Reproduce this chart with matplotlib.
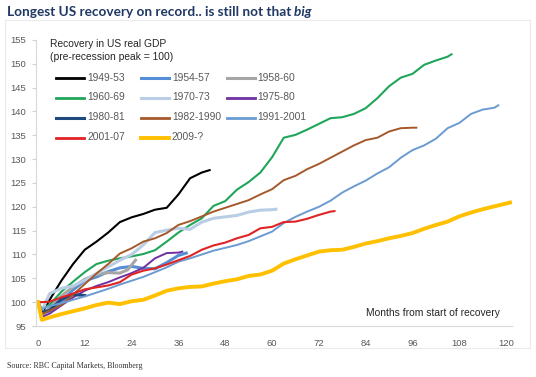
import matplotlib
matplotlib.use("Agg")
import matplotlib.pyplot as plt
from matplotlib.lines import Line2D
from matplotlib.patches import Rectangle

# recovery paths, index (pre-recession peak = 100) vs months from start of recovery
labels = ["1949-53", "1954-57", "1958-60", "1960-69", "1970-73", "1975-80",
          "1980-81", "1982-1990", "1991-2001", "2001-07", "2009-?"]
colors = ["#000000", "#558ED5", "#A6A6A6", "#1FA65A", "#B9CDE5", "#7030A0",
          "#1F497D", "#A5592A", "#6A9BD1", "#E02424", "#FFC000"]
widths = [1.5, 2.2, 2.2, 1.5, 2.2, 1.4, 2.2, 1.4, 1.4, 1.5, 2.8]

m_1949 = [0, 1, 3, 6, 9, 12, 15, 18, 21, 24, 27, 30, 33, 36, 39, 42, 44]
v_1949 = [100, 97.5, 100.5, 104.5, 108, 111, 112.7, 114.6, 116.8, 117.8, 118.5,
          119.4, 119.8, 122.6, 126.0, 127.2, 127.7]

m_1954 = [0, 1, 3, 6, 9, 12, 15, 18, 21, 24, 27, 30, 33, 36, 38]
v_1954 = [100, 97.5, 98.2, 100, 102.6, 104.5, 105.3, 106.4, 107.2, 107.5, 107.1,
          107.0, 108.3, 109.8, 110.3]

m_1958 = [0, 1, 3, 6, 9, 12, 15, 18, 21, 23, 25]
v_1958 = [100, 97.2, 98.8, 101.3, 103.2, 104.8, 105.8, 106.2, 106.1, 106.8, 108.8]

m_1960 = [0, 1, 3, 6, 9, 12, 15, 18, 21, 24, 27, 30, 33, 36, 39, 42, 45, 48, 51,
          54, 57, 60, 63, 66, 69, 72, 75, 78, 81, 84, 87, 90, 93, 96, 99, 102,
          105, 106]
v_1960 = [100, 98.5, 99.5, 102.2, 104.3, 106.3, 108.0, 108.7, 109.2, 109.6, 110.1,
          110.9, 112.7, 114.6, 116.2, 117.6, 120.2, 121.2, 123.6, 125.2, 127.2,
          130.4, 134.5, 135.1, 136.2, 137.4, 138.6, 138.8, 139.5, 140.7, 142.8,
          145.3, 147.1, 147.9, 149.8, 150.7, 151.5, 152.0]

m_1970 = [0, 1, 3, 6, 9, 12, 15, 18, 21, 24, 27, 30, 33, 36, 39, 42, 45, 48, 51,
          54, 57, 60, 61]
v_1970 = [100, 98.2, 101.8, 102.9, 103.4, 104.6, 106.0, 107.4, 108.8, 110.0, 112.0,
          114.6, 115.1, 115.5, 115.3, 116.8, 117.6, 117.9, 118.2, 118.9, 119.3,
          119.4, 119.5]

m_1975 = [0, 1, 3, 6, 9, 12, 15, 18, 21, 24, 27, 30, 33, 36, 37]
v_1975 = [100, 96.9, 97.6, 99.3, 101.0, 102.4, 103.4, 104.2, 105.2, 106.1, 107.2,
          109.2, 110.3, 110.4, 110.6]

m_1980 = [0, 1, 3, 6, 9, 12]
v_1980 = [100, 97.8, 98.3, 100.6, 101.6, 101.4]

m_1982 = [0, 1, 3, 6, 9, 12, 15, 18, 21, 24, 27, 30, 33, 36, 39, 42, 45, 48, 51,
          54, 57, 60, 63, 66, 69, 72, 75, 78, 81, 84, 87, 90, 93, 96, 97]
v_1982 = [100, 97.5, 98.2, 99.4, 101.6, 103.8, 106.0, 108.0, 110.2, 111.3, 112.7,
          113.4, 114.5, 116.2, 117.0, 118.0, 119.0, 119.8, 120.6, 121.4, 122.6,
          123.7, 125.6, 126.5, 127.9, 129.0, 130.3, 131.6, 132.9, 134.0, 134.5,
          135.8, 136.5, 136.6, 136.6]

m_1991 = [0, 1, 3, 6, 9, 12, 15, 18, 21, 24, 27, 30, 33, 36, 39, 42, 45, 48, 51,
          54, 57, 60, 63, 66, 69, 72, 75, 78, 81, 84, 87, 90, 93, 96, 99, 102,
          105, 108, 111, 114, 117, 118]
v_1991 = [100, 98.6, 99.2, 99.8, 100.5, 101.2, 102.0, 102.8, 103.7, 104.5, 105.3,
          106.3, 107.3, 108.5, 109.2, 110.0, 110.8, 111.4, 112.0, 112.8, 113.8,
          114.8, 116.6, 117.9, 119.0, 120.0, 121.3, 123.0, 124.3, 125.5, 127.0,
          128.3, 130.3, 131.9, 132.9, 134.3, 136.5, 137.6, 139.5, 140.4, 140.8,
          141.3]

m_2001 = [0, 1, 3, 6, 9, 12, 15, 18, 21, 24, 27, 30, 33, 36, 39, 42, 45, 48, 51,
          54, 57, 60, 63, 66, 69, 72, 75, 76]
v_2001 = [100, 100, 100.1, 101.0, 101.8, 102.7, 103.1, 103.5, 104.2, 105.8, 106.6,
          107.1, 107.9, 108.8, 109.7, 111.0, 111.9, 112.5, 113.4, 114.1, 115.5,
          115.8, 116.8, 116.9, 117.5, 118.3, 119.0, 119.1]

m_2009 = [0, 1, 3, 6, 9, 12, 15, 18, 21, 24, 27, 30, 33, 36, 39, 42, 45, 48, 51,
          54, 57, 60, 63, 66, 69, 72, 75, 78, 81, 84, 87, 90, 93, 96, 99, 102,
          105, 108, 111, 114, 117, 120, 121]
v_2009 = [100, 96.3, 96.8, 97.5, 98.1, 98.7, 99.4, 99.9, 99.6, 100.2, 100.5, 101.4,
          102.4, 102.9, 103.2, 103.3, 103.9, 104.4, 104.8, 105.5, 105.8, 106.6,
          108.1, 109.0, 109.8, 110.6, 110.9, 111.0, 111.6, 112.3, 112.8, 113.4,
          113.9, 114.5, 115.4, 116.2, 116.9, 118.0, 118.8, 119.5, 120.1, 120.7,
          120.9]

months = [m_1949, m_1954, m_1958, m_1960, m_1970, m_1975, m_1980, m_1982, m_1991, m_2001, m_2009]
values = [v_1949, v_1954, v_1958, v_1960, v_1970, v_1975, v_1980, v_1982, v_1991, v_2001, v_2009]

x_ticks = list(range(0, 121, 12))
y_ticks = list(range(95, 156, 5))

narrow = ["Liberation Sans Narrow", "Liberation Sans", "DejaVu Sans"]
W, H = 536, 377


def px(x, y):
    # figure pixel position -> figure fraction
    return x / W, 1 - y / H


fig = plt.figure(figsize=(W / 100, H / 100), dpi=100)
ax = fig.add_axes([36 / W, 1 - 326 / H, (512 - 36) / W, (326 - 40) / H])

for m, v, c, lw in zip(months, values, colors, widths):
    ax.plot(m, v, color=c, lw=lw, solid_joinstyle="round")

ax.set_xlim(-0.5, 121.5)
ax.set_ylim(95, 155)
ax.set_xticks(x_ticks)
ax.set_yticks(y_ticks)
ax.tick_params(axis="x", length=0, pad=9, labelsize=6.8, labelcolor="#595959")
ax.tick_params(axis="y", length=3, color="#D0D0D0", pad=4, labelsize=6.8, labelcolor="#595959")
for lab in ax.get_xticklabels() + ax.get_yticklabels():
    lab.set_family(narrow)
for s in ["top", "right"]:
    ax.spines[s].set_visible(False)
for s in ["left", "bottom"]:
    ax.spines[s].set_color("#D9D9D9")
    ax.spines[s].set_linewidth(0.8)

# legend block, drawn by hand to keep the column grid of the original
fig.text(*px(50, 44), "Recovery in US real GDP", family=narrow, fontsize=7.4,
         color="#262626", va="center")
fig.text(*px(50, 57), "(pre-recession peak = 100)", family=narrow, fontsize=7.4,
         color="#262626", va="center")
col_x = [56, 141, 226.5]
row_y = [78, 97.5, 117.5, 137.5]
for i, (lab, c, lw) in enumerate(zip(labels, colors, widths)):
    r, k = divmod(i, 3)
    x0, y0 = px(col_x[k], row_y[r])
    x1, _ = px(col_x[k] + 28, row_y[r])
    fig.add_artist(Line2D([x0, x1], [y0, y0], color=c, lw=max(lw, 2.0),
                          transform=fig.transFigure))
    fig.text(*px(col_x[k] + 31, row_y[r]), lab, family=narrow, fontsize=7.4,
             color="#595959", va="center")

fig.text(*px(500, 312.5), "Months from start of recovery", family=narrow,
         fontsize=7.4, color="#262626", ha="right", va="center")

# title, frame and source
t1 = fig.text(*px(7, 16), "Longest US recovery on record.. is still not that",
              family=["Lato", "DejaVu Sans"], fontweight="bold", fontsize=9.8,
              color="#1F3864", va="baseline")
fig.canvas.draw()
ax.annotate(" big", xy=(1, 0), xycoords=t1, va="bottom",
            family=["Lato", "DejaVu Sans"], fontweight="bold", style="italic",
            fontsize=9.8, color="#1F3864", annotation_clip=False)
fig.add_artist(Rectangle(px(5, 348), (530 - 5) / W, (348 - 20) / H,
                         transform=fig.transFigure, fill=False,
                         edgecolor="#EBEBEB", lw=0.8))
fig.text(*px(7, 366), "Source: RBC Capital Markets, Bloomberg",
         family=["Liberation Serif", "DejaVu Serif"], fontsize=5.8,
         color="#333333", va="center")

fig.savefig("out.png", dpi=100)
